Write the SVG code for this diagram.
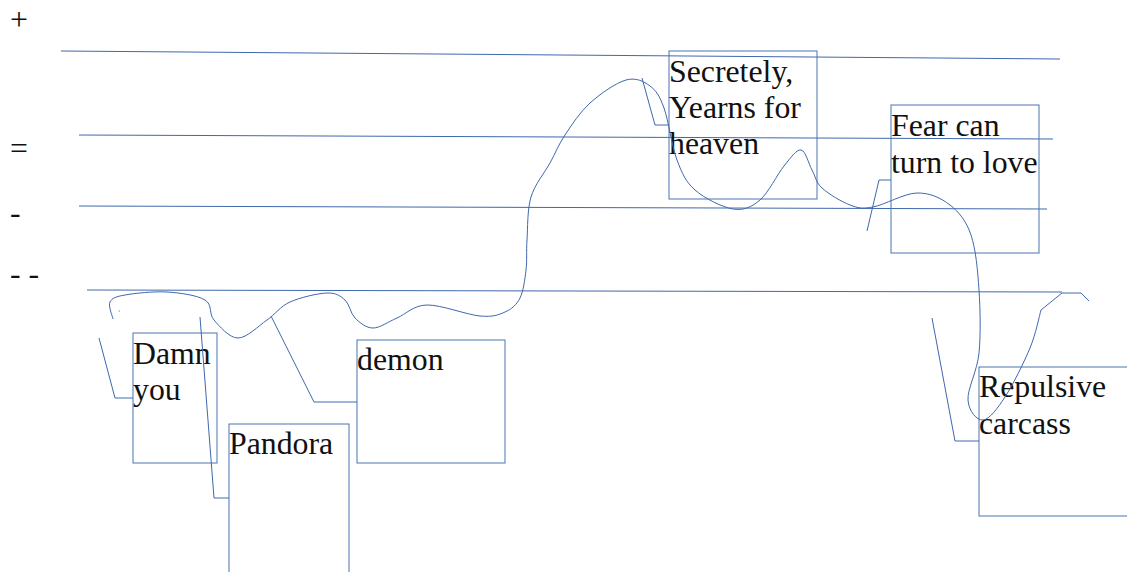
<svg xmlns="http://www.w3.org/2000/svg" width="1127" height="572" viewBox="0 0 1127 572">
<style>
.ln{fill:none;stroke:#3f68ad;stroke-width:1}
.box{fill:none;stroke:#4a72b2;stroke-width:1}
.t{font-family:"Liberation Serif","Times New Roman",serif;font-size:31.8px;fill:#111}
</style>
<rect width="1127" height="572" fill="#fff"/>
<g id="scale">
<text class="t" x="10" y="30">+</text>
<text class="t" x="10" y="159">=</text>
<text class="t" x="10" y="223">-</text>
<text class="t" x="10" y="284">- -</text>
</g>
<g id="gridlines">
<line class="ln" x1="61" y1="51" x2="1060" y2="59"/>
<line class="ln" x1="79" y1="135" x2="1053" y2="139"/>
<line class="ln" x1="79" y1="206" x2="1047" y2="209"/>
<line class="ln" x1="87" y1="290" x2="1062" y2="292"/>
</g>
<g id="node-damn">
<rect class="box" x="133" y="333" width="84" height="130"/>
<text class="t" x="133" y="364">Damn</text>
<text class="t" x="133" y="400">you</text>
</g>
<g id="node-pandora">
<rect class="box" x="229" y="424" width="120" height="160"/>
<text class="t" x="229" y="454">Pandora</text>
</g>
<g id="node-demon">
<rect class="box" x="357" y="340" width="148" height="123"/>
<text class="t" x="357" y="370">demon</text>
</g>
<g id="node-secretely">
<rect class="box" x="669" y="51" width="148" height="148"/>
<text class="t" x="669" y="82">Secretely,</text>
<text class="t" x="669" y="118">Yearns for</text>
<text class="t" x="669" y="154">heaven</text>
</g>
<g id="node-fear">
<rect class="box" x="891" y="105" width="148" height="148"/>
<text class="t" x="891" y="136">Fear can</text>
<text class="t" x="891" y="173">turn to love</text>
</g>
<g id="node-repulsive">
<rect class="box" x="979" y="367" width="150" height="149"/>
<text class="t" x="979" y="397">Repulsive</text>
<text class="t" x="979" y="434">carcass</text>
</g>
<g id="connectors">
<polyline class="ln" points="99,338 115,398 133,398"/>
<polyline class="ln" points="200,317 214,498 229,498"/>
<polyline class="ln" points="271,316 314,402 357,402"/>
<polyline class="ln" points="642,78 655,125 669,125"/>
<polyline class="ln" points="867,231 879,180 891,180"/>
<polyline class="ln" points="932,318 955,441 979,441"/>
<line class="ln" x1="119" y1="310.5" x2="119.5" y2="311.5"/>
<path class="ln" d="M113,319 C112.5,316 108,306 110,302 S115.5,296.7 125,295 S153.7,291.2 167,292 S197.2,295.3 205,300 S208.5,313.7 214,320 S229.2,338 238,338 S258.3,326 267,320 S280,306.5 290,302 S317.8,293.3 327,293 S340.3,295.8 345,300 S350.3,313.3 355,318 S366,328 373,328 S388,321.8 397,318 S413.2,305.3 427,305 S467,314.8 480,316 S498.3,315 505,312 S516.5,305 520,298 S524.8,279.7 526,270 S526.2,252.2 527,240 S527.2,209.8 531,197 S544.3,173.3 550,163 S558.3,145 565,135 S579.8,112.2 590,103 S616,82.8 626,80 S643.7,81.3 650,86 S659.5,95.7 664,108 S671.8,146.3 677,160 S685.7,181.8 695,190 S722.2,207.3 733,209 S751.5,207.2 760,200 S777.2,174.3 784,166 S796.3,149.3 801,150 S808.5,163.7 812,170 S815.7,182.2 822,188 S841.5,201.8 850,205 S861.8,209 873,207 S904.2,193.3 917,193 S941,198 950,205 S966.2,220.8 971,235 S977.7,270.3 979,290 S980.8,334.7 979,353 S967.3,388.8 968,400 S976.8,420.5 983,420 S997.2,409 1005,397 S1024,362.5 1030,348 S1039.2,316.3 1041,310 L1062,293 L1081,293 L1089,301"/>
</g>
</svg>
